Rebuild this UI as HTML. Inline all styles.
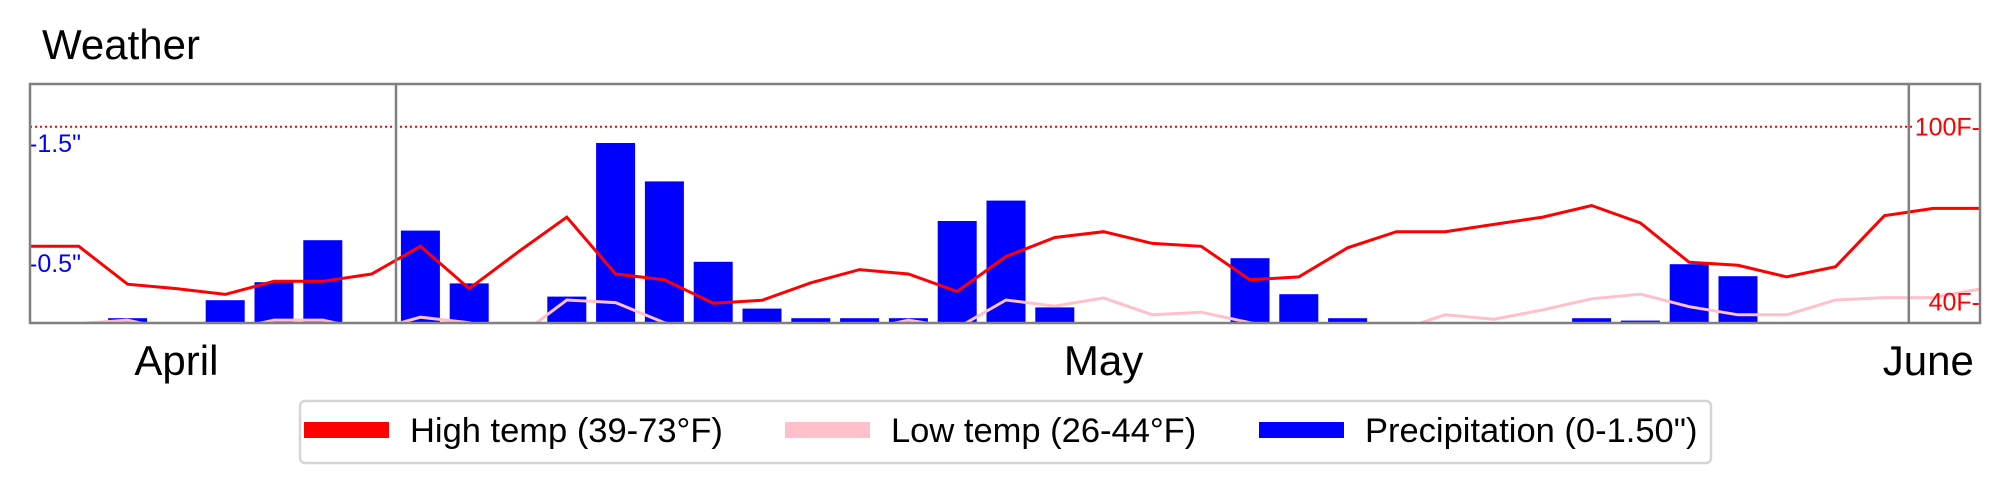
<!DOCTYPE html>
<html><head><meta charset="utf-8">
<style>
body{margin:0;background:#fff;width:2010px;height:492px;overflow:hidden;font-family:"Liberation Sans",sans-serif;}
svg{display:block}
</style></head>
<body>
<svg id="chart" width="2010" height="492" xmlns="http://www.w3.org/2000/svg">
<text x="42" y="59" font-size="42" fill="#000">Weather</text>
<g id="marks"></g>
<rect x="30" y="84" width="1950" height="239" fill="none" stroke="#808080" stroke-width="2.5"/>
<g id="legend">
<rect x="300" y="401" width="1411" height="62" rx="5" fill="#fff" stroke="#d5d5d5" stroke-width="2.5"/>
<rect x="304" y="422" width="85" height="16" fill="#ff0000"/>
<text x="410" y="442" font-size="34.5">High temp (39-73°F)</text>
<rect x="785" y="422" width="85" height="16" fill="#ffc0cb"/>
<text x="891" y="442" font-size="34.5">Low temp (26-44°F)</text>
<rect x="1259" y="422" width="85" height="16" fill="#0000ff"/>
<text x="1365" y="442" font-size="34.5">Precipitation (0-1.50")</text>
</g>
</svg>
<script>
const days = ["Apr23","Apr24","Apr25","Apr26","Apr27","Apr28","Apr29","Apr30","May1","May2","May3","May4","May5","May6","May7","May8","May9","May10","May11","May12","May13","May14","May15","May16","May17","May18","May19","May20","May21","May22","May23","May24","May25","May26","May27","May28","May29","May30","May31","Jun1","Jun2"];
const highTemp = [59,59,46,44.5,42.5,47,47,49.5,59,44.5,57,69,49.5,47.5,39.5,40.5,46.5,51,49.5,43.5,55.5,62,64,60,59,47.5,48.5,58.5,64,64,66.5,69,73,67,53.5,52.5,48.5,52,69.5,72,72];
const lowTemp = [31,32.5,33.7,30,30,33.7,33.7,30,34.7,32.8,28,40.6,39.7,32.8,28,28,28,30,33.7,31,40.6,38.5,41.3,35.5,36.4,32.8,30,29,30,35.5,34,37.2,41,42.6,38.3,35.5,35.5,40.6,41.4,41.4,44.5];
const precip = [0,0,0.04,0,0.19,0.34,0.69,0,0.77,0.33,0,0.22,1.50,1.18,0.51,0.12,0.04,0.04,0.04,0.85,1.02,0.13,0,0,0,0.54,0.24,0.04,0,0,0,0,0.04,0.02,0.49,0.39,0,0,0,0,0];
const monthLabels = ["April","May","June"];
const monthLabelDay = [3,22,38.9];
const monthStartDay = [8,39];
const tempTicks = [100,40];
const precipTicks = [1.5,0.5];

const NS="http://www.w3.org/2000/svg";
const X0=30, DX=48.8, LEFT=30, RIGHT=1980, TOP=84, BOT=323;
const xDay=i=>X0+i*DX;
const yTemp=t=>126.7+(100-t)*2.917;
const yPrecip=p=>BOT-120*p;
const g=document.getElementById('marks');
function mk(tag,attrs){const e=document.createElementNS(NS,tag);for(const k in attrs)e.setAttribute(k,attrs[k]);return e;}

const defs=mk('defs',{});const cp=mk('clipPath',{id:'clip'});cp.appendChild(mk('rect',{x:LEFT,y:TOP,width:RIGHT-LEFT,height:BOT-TOP}));defs.appendChild(cp);g.appendChild(defs);
const inner=mk('g',{'clip-path':'url(#clip)'});
g.appendChild(inner);

const ref=mk('line',{x1:LEFT,x2:RIGHT,y1:yTemp(100),y2:yTemp(100),stroke:'#ff0000','stroke-width':2,'stroke-dasharray':'2,3'});


inner.appendChild(ref);

precip.forEach((p,i)=>{
  if(p<=0)return;
  const y=yPrecip(p);
  const r=mk('rect',{x:xDay(i)-19.5,y:y,width:39,height:BOT-y,fill:'#0000ff'});
  
  
  inner.appendChild(r);
});
function line(arr,color,w,name){
  const pts=arr.map((v,i)=>xDay(i).toFixed(1)+','+yTemp(v).toFixed(1)).join(' ');
  const pl=mk('polyline',{points:pts,fill:'none',stroke:color,'stroke-width':w,'stroke-linejoin':'miter'});
  
  
  inner.appendChild(pl);
}
line(lowTemp,'#ffc0cb',3,'low-temp-line');
line(highTemp,'#ff0000',3,'high-temp-line');

monthStartDay.forEach((d,k)=>{
  const x=xDay(d)-DX/2;
  const l=mk('line',{x1:x,x2:x,y1:TOP,y2:BOT,stroke:'#808080','stroke-width':2.5});
  
  
  g.appendChild(l);
});
tempTicks.forEach((v,k)=>{
  const y=yTemp(v);
  if(k===0){
    const bg=mk('rect',{x:1914,y:y-10,width:65,height:20,fill:'#fff'});
    g.appendChild(bg);
  }
  const t=mk('text',{x:RIGHT,y:y+9,'font-size':25,fill:'#ff0000','text-anchor':'end'});
  t.textContent=v+'F-';
  
  
  g.appendChild(t);
});

monthLabels.forEach((m,k)=>{
  const t=mk('text',{x:xDay(monthLabelDay[k]),y:375,'font-size':42,'text-anchor':'middle',fill:'#000'});
  t.textContent=m;
  
  
  g.appendChild(t);
});
precipTicks.forEach(p=>{
  const t=mk('text',{x:LEFT-1,y:yPrecip(p)+9,'font-size':25,fill:'#0000ff'});
  t.textContent='-'+p+'"';
  
  
  g.appendChild(t);
});
</script>
</body></html>
